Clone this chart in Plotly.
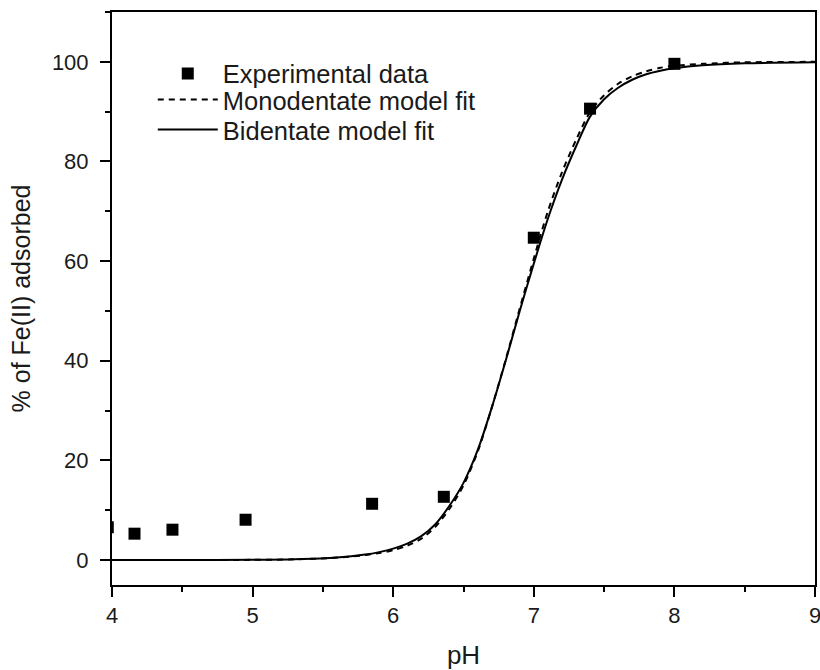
import plotly.graph_objects as go

# Experimental data
exp_ph = [3.97, 4.16, 4.43, 4.95, 5.85, 6.36, 7.00, 7.40, 8.00]
exp_pct = [6.6, 5.3, 6.1, 8.1, 11.3, 12.7, 64.7, 90.6, 99.6]

# Model curves
fit_ph = [4.0, 4.5, 5.0, 5.3, 5.6, 5.8, 5.9, 6.0, 6.1, 6.2, 6.3, 6.4, 6.5,
          6.6, 6.7, 6.8, 6.9, 7.0, 7.1, 7.2, 7.3, 7.4, 7.5, 7.6, 7.7, 7.8,
          7.9, 8.0, 8.2, 8.5, 9.0]
mono_pct = [0, 0, 0.05, 0.15, 0.5, 1.0, 1.4, 2.0, 2.9, 4.3, 6.7, 10.3, 15.0,
            21.7, 30.5, 40.2, 50.5, 60.5, 70.0, 77.8, 84.3, 89.9, 93.3, 95.6,
            97.1, 98.1, 98.8, 99.2, 99.6, 99.9, 100]
bi_pct = [0, 0, 0.05, 0.15, 0.5, 1.1, 1.6, 2.3, 3.3, 4.8, 7.2, 10.9, 15.5,
          22.0, 30.5, 40.0, 50.0, 59.5, 68.5, 76.3, 83.0, 89.0, 92.5, 94.8,
          96.4, 97.5, 98.2, 98.7, 99.3, 99.7, 99.9]

x_ticks = [4, 5, 6, 7, 8, 9]
y_ticks = [0, 20, 40, 60, 80, 100]

FONT = "Liberation Sans, Arial, sans-serif"
TXT = "#1a1a1a"

fig = go.Figure()
fig.add_trace(go.Scatter(
    x=exp_ph, y=exp_pct, mode="markers", name="Experimental data",
    marker=dict(symbol="square", size=12, color="black"),
    legend="legend",
))
fig.add_trace(go.Scatter(
    x=fit_ph, y=mono_pct, mode="lines", name="Monodentate model fit",
    line=dict(color="black", width=2, dash="6px,5px", shape="spline", smoothing=0.8),
    legend="legend2",
))
fig.add_trace(go.Scatter(
    x=fit_ph, y=bi_pct, mode="lines", name="Bidentate model fit",
    line=dict(color="black", width=2, shape="spline", smoothing=0.8),
    legend="legend3",
))

axis_common = dict(
    showline=True, linecolor="black", linewidth=2, mirror=True,
    ticks="outside", ticklen=10, tickwidth=2, tickcolor="black",
    showgrid=False, zeroline=False,
    tickfont=dict(family=FONT, size=22, color=TXT),
    ticklabeloverflow="allow",
)

leg_common = dict(
    x=0.058, xanchor="left", yanchor="middle",
    bgcolor="rgba(0,0,0,0)", borderwidth=0,
    font=dict(family=FONT, size=25.5, color=TXT),
    itemwidth=60,
)

fig.update_layout(
    width=820, height=670,
    margin=dict(l=112, r=5, t=12, b=85),
    paper_bgcolor="white", plot_bgcolor="white",
    font=dict(family=FONT, size=22, color=TXT),
    xaxis=dict(
        range=[4, 9], tickvals=x_ticks, ticktext=[str(v) for v in x_ticks],
        minor=dict(dtick=0.5, ticks="outside", ticklen=5, tickwidth=2, tickcolor="black"),
        title=dict(text="pH", font=dict(family=FONT, size=26, color=TXT), standoff=18),
        automargin=False,
        **axis_common,
    ),
    yaxis=dict(
        range=[-5, 110], tickvals=y_ticks, ticktext=[str(v) for v in y_ticks],
        minor=dict(dtick=10, ticks="outside", ticklen=5, tickwidth=2, tickcolor="black"),
        title=dict(text="% of Fe(II) adsorbed", font=dict(family=FONT, size=25, color=TXT), standoff=14),
        automargin=False,
        ticklabelstandoff=7,
        **axis_common,
    ),
    showlegend=True,
    legend=dict(y=0.892, **leg_common),
    legend2=dict(y=0.8464, **leg_common),
    legend3=dict(y=0.7941, **leg_common),
)

fig.write_html("out.html")
